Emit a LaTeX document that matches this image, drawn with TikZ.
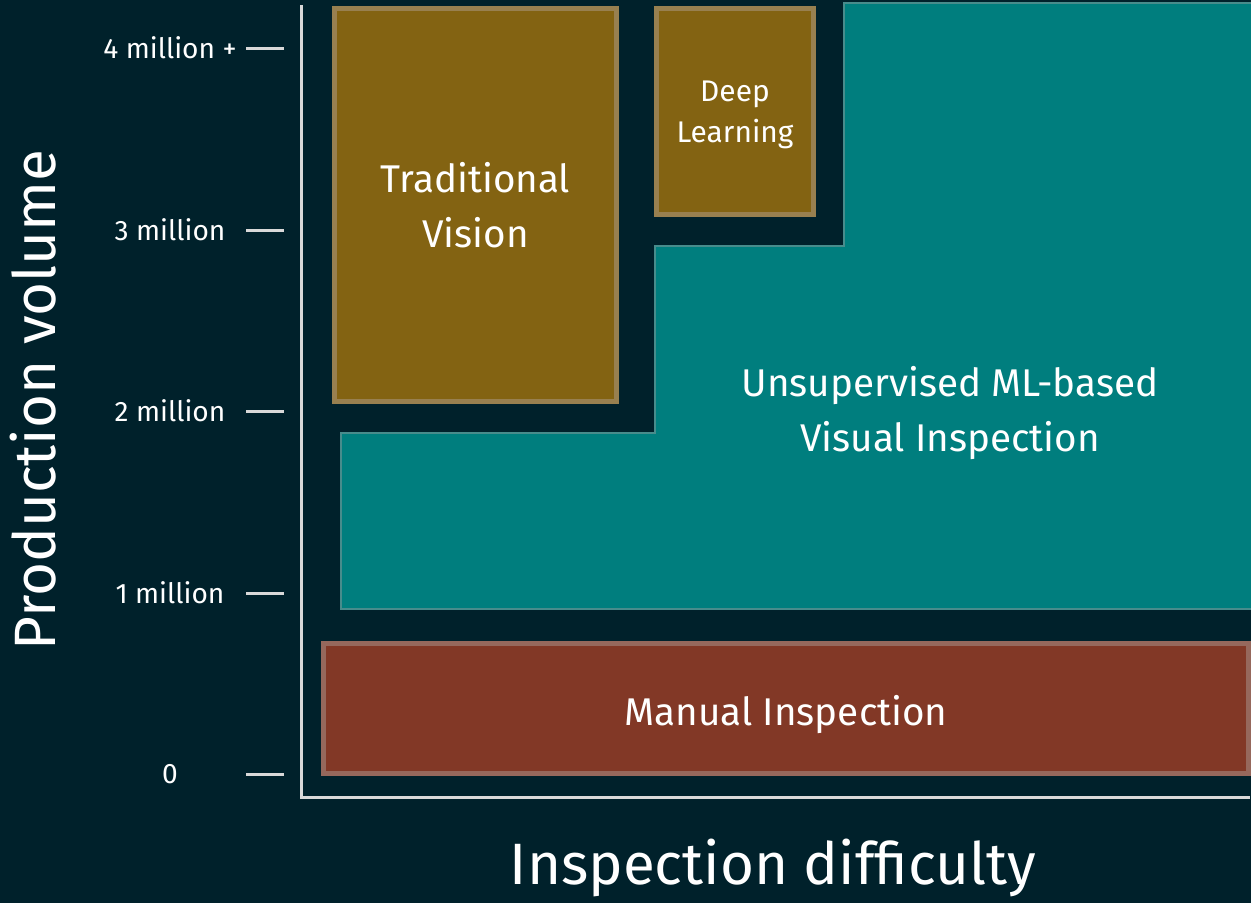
\documentclass[tikz,border=0pt]{standalone}
\usepackage{fontspec}
\setmainfont{Fira Sans}
\usetikzlibrary{positioning}
\definecolor{NightBlue}{RGB}{0,33,43}
\definecolor{AxisGrey}{RGB}{217,217,217}
\definecolor{Ochre}{RGB}{131,99,18}
\definecolor{OchreEdge}{RGB}{152,128,80}
\definecolor{Teal}{RGB}{0,126,126}
\definecolor{TealEdge}{RGB}{72,140,140}
\definecolor{Rust}{RGB}{130,56,38}
\definecolor{RustEdge}{RGB}{150,104,92}
\newcommand{\fsz}[1]{\fontsize{#1}{1.2\dimexpr#1pt\relax}\selectfont}

\begin{document}
\begin{tikzpicture}[x=0.02cm, y=-0.02cm,
    box/.style={draw, line width=0.1cm, align=center, text=white, inner sep=0pt},
    tick/.style={line width=0.06cm, AxisGrey},
    lab/.style={text=white, font=\fsz{16}},
    ttl/.style={text=white, font=\fsz{33.2}}
  ]
    \fill[NightBlue] (0,0) rectangle (1251,903);
    \useasboundingbox (0,0) rectangle (1251,903);
    % axes
    \coordinate (ytop) at (301.5,6);
    \coordinate (origin) at (301.5,797.5);
    \coordinate (xend) at (1248,797.5);
    \draw[tick, line cap=rect] (ytop) -- (origin) -- (xend);
    % ticks and their labels
    \foreach \y/\txt/\nm in {774/0/t0, 593/1 million/t1, 411/2 million/t2, 230/3 million/t3, 48/4 million +/t4} {
      \draw[tick] (246,\y) -- (284,\y);
      \node[lab] (\nm) at (170,\y) {\txt};
    }
    % unsupervised region
    \draw[fill=Teal, draw=TealEdge, line width=0.04cm]
      (341,433) -- (655,433) -- (655,246) -- (844,246) -- (844,3) -- (1253,3)
      -- (1253,609) -- (341,609) -- cycle;
    \node[text=white, align=center, font=\fsz{22}] (unsup) at (950,413)
      {Unsupervised ML-based\\[5pt]Visual Inspection};
    % boxes
    \node[box, fill=Ochre, draw=OchreEdge, minimum width=5.64cm, minimum height=7.86cm,
      font=\fsz{22}] (trad) at (475.5,205) {Traditional\\[5pt]Vision};
    \node[box, fill=Ochre, draw=OchreEdge, minimum width=3.14cm, minimum height=4.12cm,
      text depth=0pt, font=\fsz{17}] (deep) at (735,111.5) {Deep\\[3pt]Learning};
    \node[box, fill=Rust, draw=RustEdge, minimum width=18.5cm, minimum height=2.6cm,
      text depth=0pt, font=\fsz{22}] (manual) at (786,708.5) {\raisebox{-2pt}{Manual Inspection}};
    % axis titles
    \node[ttl, rotate=90] (ytitle) at (33,400) {Production volume};
    \node[ttl] (xtitle) at (773,868) {Inspection difficulty};
  \end{tikzpicture}
\end{document}
